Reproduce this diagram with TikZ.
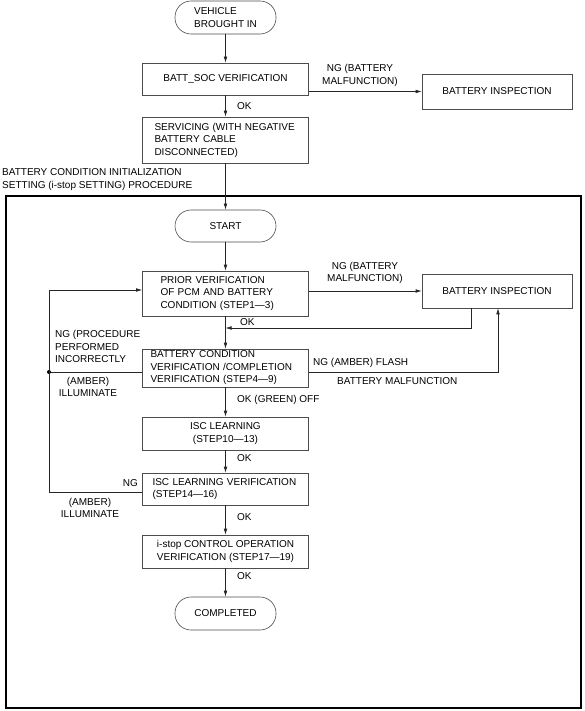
\documentclass[tikz,border=0pt]{standalone}
\usepackage{fontspec}
\setmainfont{Liberation Sans}
\usetikzlibrary{arrows.meta}
\begin{document}
\begin{tikzpicture}[x=1pt,y=-1pt, font=\fontsize{10}{12.5}\selectfont,
 box/.style={draw=black!70, line width=0.6pt, inner sep=0pt, minimum width=166pt, align=center},
 pill/.style={draw=black!70, line width=0.6pt, rounded corners=16pt, minimum width=101pt, minimum height=33pt, inner sep=0pt, align=left},
 conn/.style={draw=black!85, line width=0.6pt},
 arr/.style={conn, -{Latex[length=6pt,width=3.6pt]}},
 lbl/.style={inner sep=0pt, align=left, anchor=west},
 clbl/.style={inner sep=0pt, align=center}
]
\useasboundingbox (0,0) rectangle (584,711);
% top part
\node[pill] (veh) at (225.5,17.5) {VEHICLE\\BROUGHT IN};
\node[box, minimum height=32pt] (soc) at (225.5,79) {BATT\_SOC VERIFICATION};
\node[box, minimum width=150pt, minimum height=35pt] (insp1) at (497,91.5) {BATTERY INSPECTION};
\node[box, minimum height=46pt, text width=142pt, inner xsep=12pt, align=left] (serv) at (225.5,140) {SERVICING (WITH NEGATIVE\\BATTERY CABLE\\DISCONNECTED)};
\node[clbl] (ng1) at (360,75.5) {NG (BATTERY\\MALFUNCTION)};
\node[lbl] (ok1) at (237,106) {OK};
\node[lbl] (title) at (2,179.5) {BATTERY CONDITION INITIALIZATION\\SETTING (i-stop SETTING) PROCEDURE};
\draw[arr] (veh) -- (soc);
\draw[arr] (insp1.west -| soc.east) -- (insp1.west);
\draw[arr] (soc) -- (serv);
% frame
\node[draw=black, line width=1.1pt, minimum width=575pt, minimum height=512pt, inner sep=0pt] (frame) at (293.5,452) {};
% procedure
\node[pill, minimum height=32pt] (start) at (225.5,226) {START};
\draw[arr] (serv) -- (start);
\node[box, minimum height=45pt, text width=130pt, inner xsep=18pt, align=left] (prior) at (225.5,293.5) {PRIOR VERIFICATION\\OF PCM AND BATTERY\\CONDITION (STEP1—3)};
\node[box, minimum width=150pt, minimum height=34pt] (insp2) at (497,291) {BATTERY INSPECTION};
\node[clbl] (ng2) at (365,273) {NG (BATTERY\\MALFUNCTION)};
\draw[arr] (start) -- (prior);
\draw[arr] (insp2.west -| prior.east) -- (insp2.west);
\coordinate (okret) at (225.5,328);
\draw[arr] ([xshift=-26pt]insp2.south) |- (okret);
\node[lbl] (ok2) at (240,322) {OK};
\node[box, minimum height=38pt, text width=150pt, inner xsep=8pt, align=left] (bcv) at (225.5,368) {BATTERY CONDITION\\VERIFICATION /COMPLETION\\VERIFICATION (STEP4—9)};
\draw[arr] (prior) -- (bcv);
\draw[arr] ([yshift=-4pt]bcv.east) -| ([xshift=1pt]insp2.south);
\node[lbl] (ngf) at (313,363) {NG (AMBER) FLASH};
\node[lbl] (bm) at (337,381) {BATTERY MALFUNCTION};
\coordinate (j) at (49,372);
\coordinate (lt) at (49,290);
\draw[conn] ([yshift=-4pt]bcv.west) -- (j);
\fill[black] (j) circle (2pt);
\node[lbl] (ngp) at (55,346.5) {NG (PROCEDURE\\PERFORMED\\INCORRECTLY};
\node[clbl] (am1) at (88,387) {(AMBER)\\ILLUMINATE};
\node[box, minimum height=33pt] (isc) at (225.5,433.5) {ISC LEARNING\\(STEP10—13)};
\draw[arr] (bcv) -- (isc);
\node[lbl] (okg) at (237,400) {OK (GREEN) OFF};
\node[box, minimum height=32pt, text width=146pt, inner xsep=10pt, align=left] (iscv) at (225.5,489) {ISC LEARNING VERIFICATION\\(STEP14—16)};
\draw[arr] (isc) -- (iscv);
\node[lbl] (ok3) at (237,458) {OK};
\draw[arr] ([yshift=-3pt]iscv.west) -| (lt) -- ([yshift=3.5pt]prior.west);
\node[lbl, anchor=east] (ng3) at (138,483) {NG};
\node[clbl] (am2) at (90,508) {(AMBER)\\ILLUMINATE};
\node[box, minimum height=33pt] (istop) at (225.5,551.5) {i-stop CONTROL OPERATION\\VERIFICATION (STEP17—19)};
\draw[arr] (iscv) -- (istop);
\node[lbl] (ok4) at (237,517) {OK};
\node[pill] (comp) at (225.5,613.5) {COMPLETED};
\draw[arr] (istop) -- (comp);
\node[lbl] (ok5) at (237,576) {OK};
\end{tikzpicture}
\end{document}
